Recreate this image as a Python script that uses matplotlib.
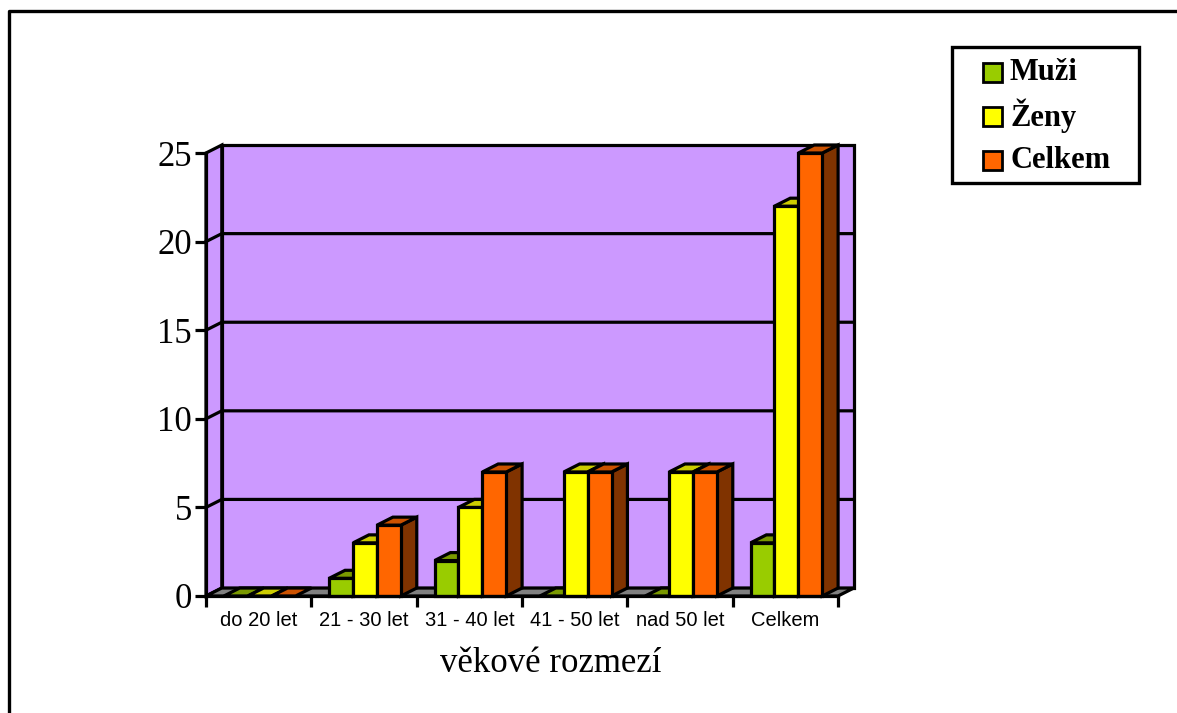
import matplotlib.pyplot as plt
from matplotlib.patches import Polygon, Rectangle

# data
categories = ['do 20 let', '21 - 30 let', '31 - 40 let', '41 - 50 let', 'nad 50 let', 'Celkem']
muzi = [0, 1, 2, 0, 0, 3]
zeny = [0, 3, 5, 7, 7, 22]
celkem = [0, 4, 7, 7, 7, 25]
series_names = ['Muži', 'Ženy', 'Celkem']
yticks = [0, 5, 10, 15, 20, 25]

# front, top, side colours
colors = [('#99CC00', '#7A9900', '#4D6600'),
          ('#FFFF00', '#CCCC00', '#808000'),
          ('#FF6600', '#CC5200', '#803300')]
wall = '#CC99FF'
floor = '#808080'

W, H = 1177, 713
fig = plt.figure(figsize=(W / 100, H / 100), dpi=100)

# outer frame of the chart area
frame = fig.add_axes([0, 0, 1, 1])
frame.set_xlim(0, W)
frame.set_ylim(H, 0)
frame.axis('off')
frame.plot([9, 9, W + 5], [H + 5, 11, 11], color='black', lw=2.4, clip_on=False)

ax = fig.add_axes([206 / W, (H - 596) / H, (838 - 206) / W, (596 - 153) / H])
n = len(categories)
ymax = 25
dx = 0.15     # depth offset in category units
dy = 0.45     # depth offset in value units
bw = 0.227    # bar width
off = 0.17    # offset of first bar in a group
lw = 2.3

ax.set_xlim(0, n)
ax.set_ylim(0, ymax)

def poly(pts, fc, z):
    ax.add_patch(Polygon(pts, closed=True, facecolor=fc, edgecolor='black',
                         lw=lw, joinstyle='miter', clip_on=False, zorder=z))

# walls and floor
poly([(dx, dy), (n + dx, dy), (n + dx, ymax + dy), (dx, ymax + dy)], wall, 1)
poly([(0, 0), (dx, dy), (dx, ymax + dy), (0, ymax)], wall, 1)
for v in yticks[1:-1]:
    ax.plot([0, dx, n + dx], [v, v + dy, v + dy], color='black', lw=lw,
            clip_on=False, zorder=2)
poly([(0, 0), (n, 0), (n + dx, dy), (dx, dy)], floor, 3)

# bars, drawn left to right
z = 4
for i in range(n):
    for k, vals in enumerate([muzi, zeny, celkem]):
        x0 = i + off + k * bw
        x1 = x0 + bw
        h = vals[i]
        fc, tc, sc = colors[k]
        if h > 0:
            poly([(x1, 0), (x1 + dx, dy), (x1 + dx, h + dy), (x1, h)], sc, z)
            poly([(x0, 0), (x1, 0), (x1, h), (x0, h)], fc, z)
        poly([(x0, h), (x1, h), (x1 + dx, h + dy), (x0 + dx, h + dy)], tc, z)
        z += 1

# axes, ticks and labels
for s in ['top', 'right']:
    ax.spines[s].set_visible(False)
for s in ['left', 'bottom']:
    ax.spines[s].set_linewidth(lw)
    ax.spines[s].set_zorder(100)
ax.set_yticks(yticks)
ax.set_yticklabels([str(v) for v in yticks], fontfamily='Liberation Serif', fontsize=25)
ax.tick_params(axis='y', length=8, width=lw, pad=2)
ax.set_xticks(range(n + 1))
ax.set_xticklabels([''] * (n + 1))
ax.tick_params(axis='x', which='major', length=8, width=lw)
ax.set_xticks([i + 0.5 for i in range(n)], minor=True)
ax.set_xticklabels(categories, minor=True, fontfamily='Liberation Sans', fontsize=14.5)
ax.tick_params(axis='x', which='minor', length=0, pad=11)
ax.set_xlabel('věkové rozmezí', fontfamily='Liberation Serif', fontsize=25, labelpad=6)
ax.xaxis.set_label_coords(0.545, -0.115)

# legend
frame.add_patch(Rectangle((952, 47), 187, 136, facecolor='white', edgecolor='black', lw=2.4))
for k, name in enumerate(series_names):
    yy = 72 + k * 44
    frame.add_patch(Rectangle((983, yy - 9.5), 19, 19, facecolor=colors[k][0],
                              edgecolor='black', lw=2))
    frame.text(1010, yy, name, fontfamily='Liberation Serif', fontweight='bold',
               fontsize=22, va='center', ha='left')

fig.savefig('out.png', dpi=100)
